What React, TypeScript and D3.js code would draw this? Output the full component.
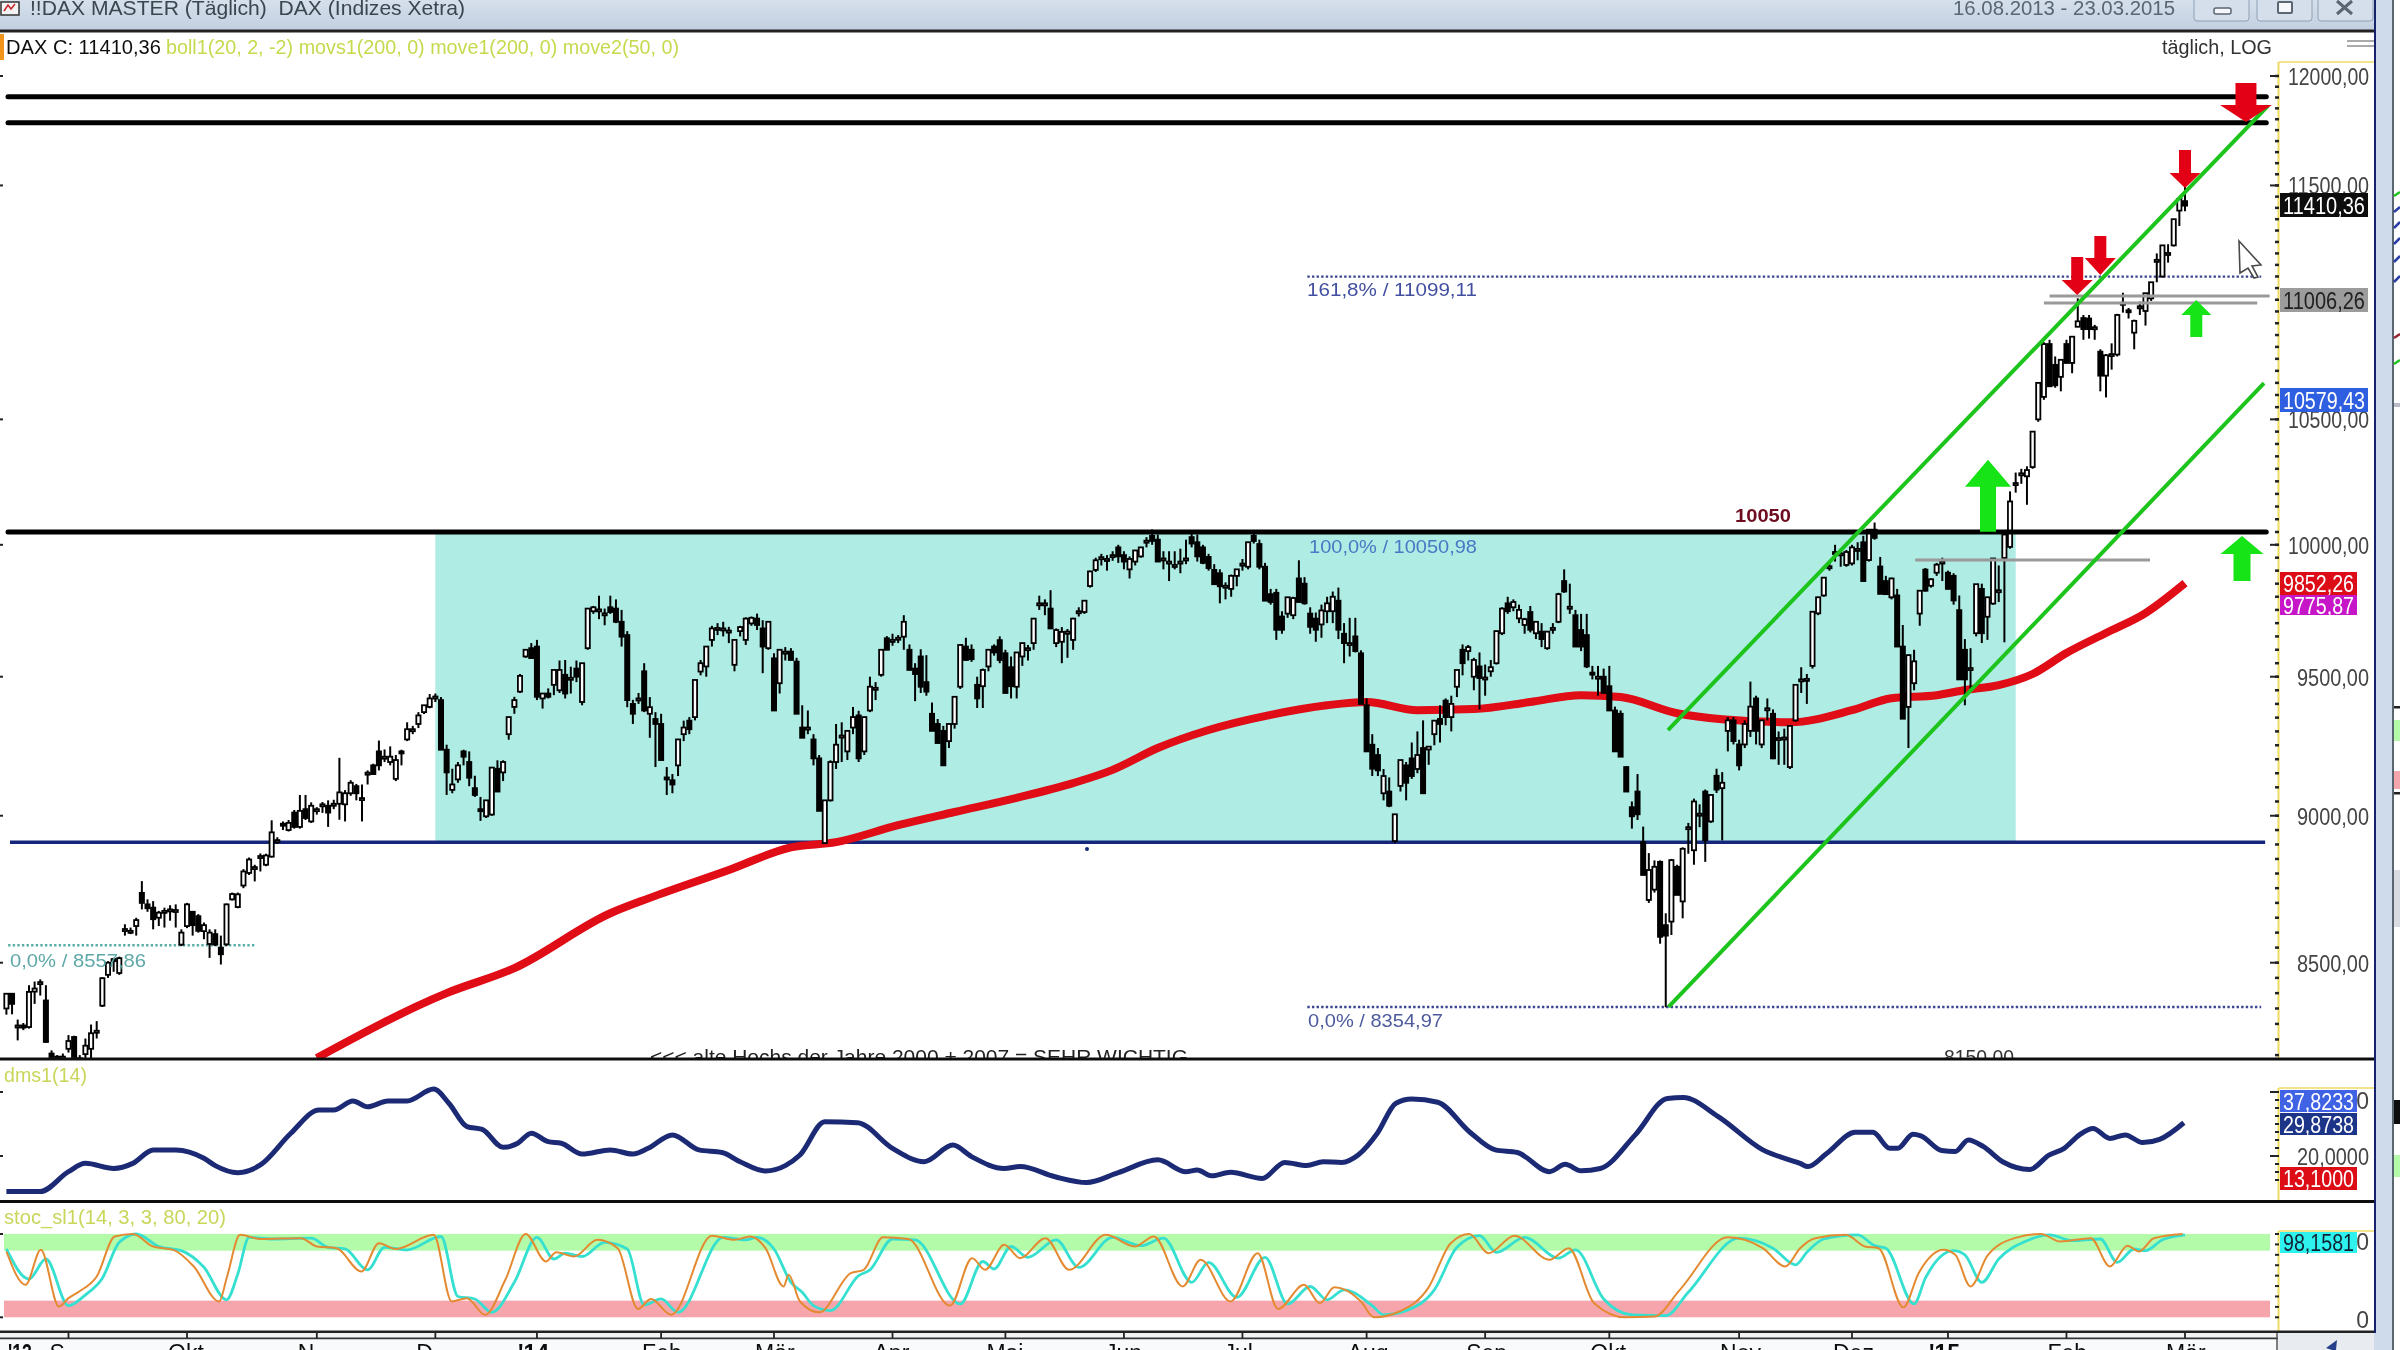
import React from "react";
import * as d3 from "d3";

// candles per month: [open, high, low, close]
type Candle = number[];
const aug13: Candle[] = [[8350,8400,8330,8398],[8398,8400,8331,8365],[8290,8314,8247,8295],[8295,8303,8280,8288],[8290,8426,8285,8404],[8405,8438,8365,8415],[8430,8445,8392,8436],[8376,8426,8240,8242],[8205,8215,8170,8190],[8195,8200,8170,8188],[8190,8205,8170,8195]];
const sep13: Candle[] = [[8220,8264,8208,8245],[8258,8262,8170,8180],[8190,8200,8165,8182],[8203,8253,8180,8230],[8220,8298,8180,8270],[8278,8309,8253,8278],[8359,8452,8355,8449],[8460,8505,8450,8500],[8512,8516,8470,8505],[8466,8520,8460,8515],[8610,8628,8590,8612],[8605,8617,8595,8606],[8622,8650,8590,8642],[8734,8774,8678,8700],[8695,8712,8670,8682],[8684,8706,8611,8645],[8650,8673,8622,8667],[8672,8684,8617,8673],[8678,8692,8640,8678],[8675,8695,8617,8676],[8560,8611,8555,8600]];
const oct13: Candle[] = [[8622,8700,8615,8695],[8670,8672,8590,8625],[8655,8662,8600,8606],[8605,8634,8578,8625],[8562,8611,8516,8600],[8595,8611,8555,8560],[8550,8590,8494,8528],[8561,8698,8555,8695],[8712,8735,8708,8730],[8686,8735,8682,8729],[8759,8815,8750,8807],[8802,8855,8795,8848],[8822,8830,8773,8822],[8858,8869,8807,8860],[8830,8868,8825,8862],[8858,8984,8855,8942],[8915,8925,8902,8915],[8972,8980,8950,8970],[8950,8985,8945,8975],[9011,9020,8955,8961],[8961,9073,8955,9017],[9023,9073,8985,8992],[8980,9047,8975,9035]];
const nov13: Candle[] = [[9020,9030,9004,9023],[9038,9048,9010,9040],[9035,9054,8961,9011],[9040,9056,9023,9042],[9042,9205,8986,9082],[9040,9090,8980,9079],[9079,9125,9070,9116],[9104,9112,9054,9079],[9060,9110,8980,9062],[9150,9160,9110,9152],[9178,9184,9145,9147],[9228,9267,9160,9178],[9207,9235,9190,9209],[9190,9246,9178,9209],[9130,9215,9122,9197],[9228,9234,9178,9222],[9271,9333,9265,9308],[9305,9320,9290,9308],[9327,9370,9312,9358],[9370,9395,9363,9395],[9389,9436,9384,9420]];
const dec13: Candle[] = [[9425,9438,9407,9427],[9414,9425,9234,9234],[9234,9252,9073,9153],[9091,9166,9079,9110],[9128,9190,9116,9178],[9228,9234,9178,9209],[9190,9228,9104,9134],[9097,9141,9066,9073],[9023,9066,8982,9020],[8998,9054,8992,9054],[9004,9172,9000,9170],[9166,9196,9085,9085],[9153,9196,9122,9190],[9290,9352,9270,9352],[9389,9426,9364,9414],[9445,9510,9440,9503],[9575,9600,9570,9600],[9606,9625,9566,9569]];
const jan14: Candle[] = [[9612,9637,9414,9426],[9420,9440,9383,9438],[9438,9457,9420,9426],[9470,9525,9432,9525],[9450,9560,9440,9525],[9507,9562,9420,9438],[9494,9537,9438,9496],[9530,9560,9480,9500],[9407,9550,9395,9550],[9606,9755,9600,9755],[9745,9765,9735,9760],[9750,9804,9715,9752],[9735,9755,9692,9737],[9760,9804,9735,9742],[9755,9790,9700,9705],[9705,9750,9612,9649],[9655,9670,9388,9414],[9400,9415,9327,9364],[9418,9440,9400,9420],[9520,9550,9370,9376],[9364,9425,9277,9388],[9345,9370,9172,9327]];
const feb14: Candle[] = [[9327,9364,9197,9197],[9135,9172,9073,9134],[9125,9147,9079,9110],[9178,9271,9140,9271],[9290,9339,9265,9314],[9339,9352,9290,9308],[9352,9488,9340,9488],[9519,9562,9505,9550],[9538,9612,9500,9612],[9637,9690,9612,9680],[9680,9700,9655,9682],[9678,9705,9650,9680],[9670,9686,9625,9672],[9544,9637,9520,9637],[9670,9690,9650,9685],[9637,9722,9618,9717],[9699,9725,9690,9720],[9717,9736,9674,9693],[9680,9711,9513,9612],[9606,9705,9600,9705]];
const mar14: Candle[] = [[9568,9587,9376,9376],[9476,9600,9438,9600],[9590,9610,9560,9593],[9593,9606,9562,9562],[9556,9570,9364,9364],[9314,9395,9277,9277],[9312,9376,9290,9314],[9271,9290,9178,9203],[9203,9215,9017,9017],[8905,9054,8903,9054],[9054,9196,9050,9190],[9190,9327,9165,9252],[9283,9333,9190,9285],[9228,9302,9197,9302],[9314,9389,9290,9352],[9358,9375,9190,9203],[9228,9352,9215,9352],[9376,9500,9370,9463],[9457,9480,9414,9459],[9507,9600,9500,9600],[9643,9651,9600,9600]];
const apr14: Candle[] = [[9635,9660,9615,9637],[9642,9655,9625,9645],[9649,9730,9600,9705],[9600,9620,9525,9525],[9530,9550,9410,9510],[9575,9602,9440,9463],[9480,9580,9430,9445],[9364,9405,9302,9302],[9327,9345,9258,9258],[9302,9320,9178,9178],[9265,9327,9240,9327],[9327,9426,9310,9426],[9463,9618,9455,9618],[9612,9645,9560,9562],[9600,9620,9555,9565],[9470,9500,9385,9420],[9465,9530,9385,9525],[9538,9600,9520,9600],[9612,9620,9578,9590],[9636,9650,9550,9562]];
const may14: Candle[] = [[9587,9600,9440,9440],[9535,9575,9420,9465],[9463,9590,9420,9590],[9575,9625,9540,9625],[9604,9618,9560,9606],[9625,9717,9600,9717],[9773,9804,9750,9775],[9773,9790,9730,9775],[9755,9825,9680,9680],[9625,9680,9610,9674],[9630,9685,9550,9667],[9660,9678,9570,9668],[9637,9720,9600,9717],[9742,9760,9725,9745],[9742,9785,9735,9785],[9841,9900,9835,9897],[9903,9950,9895,9940],[9950,9965,9920,9952],[9943,9960,9900,9945],[9958,9975,9938,9960],[9990,10000,9930,9955]];
const jun14: Candle[] = [[9960,9975,9905,9935],[9905,9955,9870,9945],[9935,9980,9920,9978],[9955,9990,9950,9990],[10015,10030,9990,10016],[10035,10060,10000,10015],[10020,10040,9935,9935],[9945,9975,9905,9947],[9932,9975,9860,9935],[9920,9975,9905,9922],[9932,9985,9890,9935],[9945,10020,9925,9947],[10030,10050,9990,10005],[10010,10040,9935,9955],[9990,10000,9925,9930],[9953,9965,9900,9910],[9903,9925,9845,9848],[9890,9905,9775,9840],[9840,9855,9790,9842],[9830,9885,9800,9880],[9880,9905,9840,9905]];
const jul14: Candle[] = [[9925,9945,9900,9927],[9915,10010,9905,10010],[10035,10056,10005,10015],[10003,10020,9905,9915],[9915,9930,9785,9785],[9810,9830,9770,9780],[9815,9830,9637,9675],[9725,9745,9660,9675],[9736,9798,9720,9798],[9730,9800,9715,9795],[9870,9940,9780,9780],[9850,9875,9770,9775],[9736,9760,9660,9686],[9717,9740,9630,9675],[9695,9770,9645,9748],[9745,9800,9700,9775],[9745,9820,9700,9800],[9785,9835,9640,9675],[9660,9700,9550,9625],[9620,9720,9575,9625],[9650,9720,9590,9595],[9587,9598,9400,9400]];
const aug14: Candle[] = [[9395,9420,9228,9228],[9252,9290,9140,9166],[9215,9240,9140,9160],[9079,9165,9054,9140],[9085,9135,9030,9035],[8912,9005,8905,9005],[9105,9197,9085,9197],[9178,9190,9054,9116],[9203,9260,9130,9140],[9165,9300,9150,9215],[9240,9340,9079,9079],[9235,9245,9180,9245],[9290,9340,9250,9339],[9345,9395,9260,9327],[9412,9420,9322,9352],[9352,9430,9300,9400],[9463,9525,9425,9525],[9600,9620,9505,9550],[9595,9618,9560,9610],[9500,9570,9450,9562],[9538,9590,9380,9495]];
const sep14: Candle[] = [[9490,9545,9430,9497],[9520,9562,9500,9535],[9550,9670,9545,9670],[9662,9760,9655,9755],[9775,9800,9735,9745],[9760,9790,9745,9780],[9718,9770,9700,9750],[9693,9720,9660,9715],[9742,9765,9665,9675],[9662,9705,9640,9705],[9668,9700,9610,9640],[9606,9670,9600,9668],[9680,9700,9660,9682],[9705,9815,9700,9810],[9860,9905,9815,9820],[9760,9850,9735,9762],[9730,9750,9612,9612],[9674,9735,9595,9612],[9655,9735,9532,9538],[9515,9540,9490,9512],[9495,9540,9430,9500],[9500,9530,9440,9440]];
const oct14: Candle[] = [[9465,9540,9375,9376],[9376,9390,9228,9228],[9364,9376,9209,9209],[9172,9175,9085,9085],[9030,9050,8955,8998],[9085,9147,8985,9005],[8908,8962,8795,8795],[8710,8870,8700,8812],[8745,8845,8735,8823],[8840,8845,8563,8586],[8625,8665,8354,8590],[8637,8850,8592,8846],[8823,8830,8727,8727],[8705,8890,8648,8885],[8955,8975,8868,8960],[8880,9060,8830,9050],[9005,9040,8960,9007],[9085,9092,8840,8915],[8980,9075,8975,9073],[9141,9166,9080,9092],[9097,9154,8914,9116],[9302,9352,9228,9340],[9340,9352,9253,9265]];
const nov14: Candle[] = [[9253,9270,9160,9178],[9253,9340,9240,9327],[9302,9482,9280,9390],[9420,9430,9253,9302],[9253,9340,9240,9340],[9380,9420,9340,9384],[9364,9380,9200,9203],[9272,9300,9180,9276],[9275,9310,9180,9278],[9172,9320,9165,9320],[9340,9470,9335,9470],[9488,9535,9440,9490],[9490,9510,9400,9492],[9540,9743,9530,9743],[9737,9800,9730,9798],[9805,9875,9800,9873],[9915,9930,9900,9917],[9970,10000,9935,9972],[9965,9985,9915,9967],[9922,9980,9915,9972]];
const dec14: Candle[] = [[9928,10000,9920,9990],[9982,10010,9940,9984],[10010,10035,9860,9860],[9941,10060,9935,10059],[10059,10087,10020,10027],[9916,9953,9810,9811],[9860,9880,9810,9810],[9798,9873,9790,9870],[9805,9830,9612,9612],[9612,9693,9346,9346],[9389,9582,9240,9580],[9476,9600,9450,9557],[9736,9823,9690,9823],[9904,9910,9820,9823],[9842,9870,9835,9867],[9892,9930,9880,9923],[9934,9950,9860,9935]];
const jan15: Candle[] = [[9892,9900,9828,9830],[9880,9890,9770,9786],[9749,9805,9490,9490],[9600,9640,9395,9490],[9530,9606,9450,9532],[9662,9848,9650,9848],[9830,9850,9625,9662],[9724,9800,9637,9798],[9774,9947,9770,9947],[9823,9920,9780,9825],[9949,10040,9628,10040],[9992,10210,9985,10170],[10240,10285,10205,10243],[10280,10300,10240,10282],[10270,10310,10157,10295],[10307,10450,10300,10450],[10500,10650,10490,10650],[10592,10820,10580,10812],[10812,10830,10635,10636],[10725,10760,10630,10640],[10675,10746,10615,10746]];
const feb15: Candle[] = [[10812,10830,10730,10733],[10733,10845,10690,10843],[10885,11006,10885,10908],[10922,10935,10830,10875],[10920,10935,10835,10875],[10880,10893,10830,10883],[10780,10790,10615,10680],[10680,10770,10590,10765],[10768,10815,10705,10770],[10768,10940,10760,10935],[10985,11030,10945,10987],[10955,10965,10920,10950],[10860,10915,10790,10910],[10970,10992,10935,10972],[10952,11028,10890,11028],[11006,11075,10995,11075],[11170,11200,11075,11172],[11100,11235,11095,11235],[11200,11240,11160,11202],[11235,11350,11230,11350],[11388,11445,11320,11440]];
const mar15: Candle[] = [[11430,11500,11385,11410]];
const candles = [...aug13, ...sep13, ...oct13, ...nov13, ...dec13, ...jan14, ...feb14, ...mar14, ...apr14, ...may14, ...jun14, ...jul14, ...aug14, ...sep14, ...oct14, ...nov14, ...dec14, ...jan15, ...feb15, ...mar15];

// SMA 200: [bar, price]
const sma200 = [[55,8191],[78,8400],[90,8482],[107,8665],[114,8717],[128,8812],[139,8890],[147,8908],[158,8967],[168,9013],[179,9063],[189,9115],[196,9162],[204,9240],[213,9305],[224,9360],[234,9395],[241,9407],[250,9377],[260,9381],[270,9407],[279,9432],[286,9425],[296,9366],[304,9344],[316,9333],[327,9377],[334,9421],[342,9432],[347,9451],[353,9469],[359,9510],[365,9588],[372,9663],[379,9738],[386,9852]];

// DMS(14): [bar, value]
const dms = [[0,8.9],[6,8.9],[11,15.1],[14,17.7],[19,16.1],[22.4,17.7],[26,21.9],[30,21.9],[35,19.3],[37,17],[41,14.8],[45,17.2],[50.4,27.1],[55.4,34.4],[58,34.4],[61.4,37.2],[64,35.4],[67.6,37.2],[71,37.2],[75.7,40.9],[78.4,36.5],[81.6,29.2],[84.3,28.3],[88,22.7],[90.6,24],[93,27.1],[96,24.5],[98.3,24],[102,20.6],[107,21.9],[111,20.6],[113.7,22.4],[118,26.6],[122.7,21.9],[126.8,21.1],[130,18.2],[134.5,15.3],[138,17],[140.6,20.3],[145,30.7],[150.8,30.4],[157,22.4],[162.6,18.2],[167.7,23.4],[171,19.8],[176.8,16.1],[179.6,16.7],[185.8,13.5],[191.4,11.7],[197,14.8],[204,18.8],[209,15.1],[211,15.6],[213.5,13.8],[216.9,14.9],[222.5,13],[226.5,18],[230.4,17],[233.3,18.2],[236.6,18],[239.5,20.3],[242.9,27.1],[246.2,36.5],[249,37.8],[253.6,36.8],[259.2,27.6],[263.8,21.9],[267.7,21.1],[273.4,15.1],[276.2,17.4],[279,15.4],[282.4,16.1],[288.6,26.6],[294.3,38],[297.1,38.3],[303.3,32.3],[311.2,21.9],[317.8,17.7],[319.2,16.7],[322.5,20.8],[327.6,27.4],[330.7,27.4],[333.7,22.4],[335.1,22.4],[337.8,26.8],[339.2,26.3],[342.9,21.7],[345.3,21.4],[347.6,25],[350.3,22.9],[353.7,18.2],[358.5,15.8],[361.9,20.3],[364.6,22.4],[367.3,26.6],[369.7,28.6],[372.7,25.5],[375.4,26.6],[378.5,24.2],[381.5,25.2],[385.8,30.4]];

// Stochastic: [bar, value]
const stochFast = [[0,79],[3.4,39],[6.1,81],[9.3,13],[11,23],[12.9,31],[16,49],[19.2,97],[22.4,100],[26,85],[29.6,81],[33.2,61],[37.7,19],[39.1,49],[41.4,99],[45,94],[52.2,95],[55,85],[58.5,83],[62.9,55],[66,89],[69,82],[75.7,99],[78.9,19],[81.6,23],[84.8,3],[88.4,45],[92,100],[95.6,67],[97.4,78],[100.6,73],[104.7,93],[108.3,83],[111.9,10],[114.2,22],[117.8,3],[125,98],[129,93],[131.8,97],[134.5,83],[137.7,37],[138.6,51],[140.6,19],[144,6],[149.6,53],[151.9,57],[155.3,96],[159.8,94],[167.2,14],[171.1,71],[173.4,57],[176.8,87],[179.6,71],[184.1,95],[188.3,57],[194.8,99],[199.9,85],[203.3,97],[208.4,37],[211.6,69],[216.9,19],[221.7,77],[225.3,10],[229.9,39],[232.7,17],[235.3,36],[240,19],[242.3,0],[246.8,7],[251.9,35],[255.9,89],[259.2,100],[262.6,77],[267.2,98],[273.4,69],[276.8,83],[281.3,17],[286.9,0],[292,1],[296.5,33],[305,96],[311.2,83],[315.2,61],[317.8,83],[320.5,95],[325.9,99],[329.3,85],[331.7,83],[336.1,12],[338.8,53],[343.2,81],[345.3,75],[348,37],[351,74],[355.8,95],[360.5,100],[363.9,91],[369.3,95],[372.7,61],[375.8,86],[377.8,79],[380.5,95],[385.6,100]];
const stochSlow = [[0,82],[4,46],[7,70],[11,14],[14,27],[17,47],[20,90],[23,100],[27,85],[31,80],[35,60],[39,21],[41,52],[43,96],[47,94],[54,95],[57,84],[60,82],[64,57],[67,84],[71,81],[77,97],[80,25],[83,22],[86,6],[90,42],[94,96],[97,70],[99,77],[102,73],[106,90],[110,82],[113,15],[116,22],[119,6],[127,96],[131,93],[133,96],[136,82],[139,42],[141,30],[143,14],[146,8],[151,50],[153,57],[157,94],[161,93],[169,16],[173,67],[175,58],[178,85],[181,72],[186,93],[190,60],[196,96],[201,86],[205,95],[210,42],[213,66],[218,24],[223,72],[227,16],[231,37],[234,21],[237,33],[242,14],[244,3],[248,8],[253,33],[257,84],[261,98],[264,78],[269,96],[275,71],[278,81],[283,22],[288,3],[294,2],[298,30],[307,95],[313,83],[317,63],[319,78],[322,94],[328,99],[331,86],[333,83],[338,16],[340,47],[345,80],[347,75],[350,42],[353,70],[358,92],[362,99],[366,92],[371,94],[374,66],[377,82],[379,80],[382,93],[386,99]];

// annotations in bar / price terms
const blackLevels = [11904, 11784, 10050];
const blueLevel = 8908;
const channelUpper = [[294.4, 9305], [400.7, 11861]];
const channelLower = [[294.5, 8355], [400, 10649]];
const grayLevels = [[362, 401, 11016], [361, 398.8, 10986], [338.2, 379.8, 9941]];
const fibLevels = [[230.5, 399.5, 11099.11], [230.5, 399.5, 8354.97], [0.3, 44, 8557.86]];
const rangeBox = { startBar: 76, endBar: 356, top: 10050, bottom: 8908 };
const redArrows = [[396.8, 11787, 39, 52, 17, 21], [386, 11489, 38, 31, 15, 12], [371, 11106, 39, 31, 17, 12], [366.9, 11020, 38, 31, 15, 12]];
const greenArrows = [[388, 10999, 37, 30, 15, 12], [351.1, 10336, 72, 46, 27, 16], [396.1, 10034, 45, 43, 18, 17]];

const priceTicks = [12000, 11500, 10500, 10000, 9500, 9000, 8500];
const monthBars = [11, 32, 55, 76, 94, 116, 136, 157, 177, 198, 219, 241, 262, 284, 307, 327, 344, 365, 386];
const monthLabels = ["S", "Okt", "N", "D", "'14", "Feb", "Mär", "Apr", "Mai", "Jun", "Jul", "Aug", "Sep", "Okt", "Nov", "Dez", "'15", "Feb", "Mär"];

const FONT = '"Liberation Sans", Arial, sans-serif';
const W = 2400;
const H = 1350;
const priceTop = 32;
const priceBottom = 1058;
const plotRight = 2277;

const x = d3.scaleLinear().domain([0, 386]).range([6.4, 2185]);
const y = d3.scaleLog().domain([8500, 12000]).range([962.7, 76]);
const yDms = d3.scaleLinear().domain([0, 40]).range([1220, 1092]);
const yStoch = d3.scaleLinear().domain([0, 100]).range([1317.3, 1234]);

const priceLine = d3.line<number[]>().x((d) => x(d[0])).y((d) => y(d[1]));
const smaLine = d3.line<number[]>().x((d) => x(d[0])).y((d) => y(d[1])).curve(d3.curveMonotoneX);
const dmsLine = d3.line<number[]>().x((d) => x(d[0])).y((d) => yDms(d[1])).curve(d3.curveMonotoneX);
const stochLine = d3.line<number[]>().x((d) => x(d[0])).y((d) => yStoch(d[1])).curve(d3.curveMonotoneX);

const Txt = ({ x: tx, y: ty, w, size = 21, fill = "#333", anchor = "start", bold = false, children }: any) => (
    <text
        x={tx}
        y={ty}
        fontSize={size}
        fill={fill}
        textAnchor={anchor}
        fontWeight={bold ? "bold" : "normal"}
        textLength={w}
        lengthAdjust={w ? "spacingAndGlyphs" : undefined}
    >
        {children}
    </text>
);

// value chip on the right scale
const Chip = ({ top, h, w = 88, bg, fill = "#fff", children }: any) => (
    <g>
        <rect x={2280} y={top} width={w} height={h} fill={bg} />
        <Txt x={2283} y={top + h / 2 + 8.5} w={w - 6} fill={fill} size={24}>
            {children}
        </Txt>
    </g>
);

const arrowPath = (a: number[], dir: number) => {
    const [bar, price, len, headW, headH, stemW] = a;
    const cx = x(bar);
    const tip = y(price);
    return d3.line()([
        [cx, tip],
        [cx + headW / 2, tip + dir * headH],
        [cx + stemW / 2, tip + dir * headH],
        [cx + stemW / 2, tip + dir * len],
        [cx - stemW / 2, tip + dir * len],
        [cx - stemW / 2, tip + dir * headH],
        [cx - headW / 2, tip + dir * headH],
    ] as [number, number][]) + "Z";
};

export default function App() {
    return (
        <svg
            width={W}
            height={H}
            viewBox={`0 0 ${W} ${H}`}
            style={{ position: "absolute", left: 0, top: 0, fontFamily: FONT }}
        >
            <defs>
                <linearGradient id="titleBar" x1="0" x2="0" y1="0" y2="1">
                    <stop offset="0" stopColor="#d6e0ec" />
                    <stop offset="1" stopColor="#c2cfe0" />
                </linearGradient>
                <clipPath id="pricePane">
                    <rect x={0} y={priceTop} width={plotRight} height={priceBottom - priceTop} />
                </clipPath>
                <clipPath id="axisRow">
                    <rect x={0} y={1339} width={plotRight} height={11} />
                </clipPath>
                <filter id="soft" x="0" y="0" width="100%" height="100%">
                    <feGaussianBlur stdDeviation="0.7" />
                </filter>
            </defs>

            <g filter="url(#soft)">
                <rect width={W} height={H} fill="#fff" />

                {/* window chrome */}
                <rect width={2393} height={30} fill="url(#titleBar)" />
                <rect x={2374} y={0} width={18} height={H} fill="#cfdbea" />
                <rect x={2392} y={0} width={2} height={H} fill="#5a6672" />
                <rect x={1} y={2} width={18} height={13} fill="#f3f3f3" stroke="#333" strokeWidth={1.5} />
                <path d="M4 11 L8 5 L11 9 L15 4" fill="none" stroke="#c8202a" strokeWidth={1.5} />
                <Txt x={30} y={15} w={435} size={21} fill="#3a4650">
                    {"!!DAX MASTER (Täglich)\u00a0\u00a0DAX (Indizes Xetra)"}
                </Txt>
                <Txt x={1953} y={15} w={222} size={20} fill="#5a6672">
                    16.08.2013 - 23.03.2015
                </Txt>
                {[2194, 2257, 2318].map((bx) => (
                    <rect key={bx} x={bx} y={-6} width={55} height={27} rx={3} fill="#d5dfeb" stroke="#8ea0b4" />
                ))}
                <rect x={2214} y={8} width={17} height={6} rx={2} fill="#f5f7fa" stroke="#5a6672" strokeWidth={1.5} />
                <rect x={2278} y={2} width={14} height={11} rx={1} fill="#f5f7fa" stroke="#5a6672" strokeWidth={2} />
                <path d="M2337 1 L2352 14 M2352 1 L2337 14" stroke="#5a6672" strokeWidth={3} />
                <rect x={0} y={29.5} width={2374} height={3} fill="#222" />

                {/* next window peeking in on the right */}
                <path d="M2394 196 L2400 192" stroke="#1dc41d" strokeWidth={2.5} />
                <path d="M2394 212 L2400 207 M2394 228 L2400 222 M2394 244 L2400 238 M2394 262 L2400 256 M2394 282 L2400 276" stroke="#2a40a8" strokeWidth={2.5} />
                <path d="M2394 338 L2400 334" stroke="#9b2030" strokeWidth={2.5} />
                <path d="M2394 364 L2400 360" stroke="#1dc41d" strokeWidth={2.5} />
                <rect x={2394} y={403} width={6} height={4} fill="#b8bcc8" />
                <rect x={2394} y={706} width={6} height={2.5} fill="#222" />
                <rect x={2394} y={720} width={6} height={21} fill="#b3fba9" />
                <rect x={2394} y={771} width={6} height={18} fill="#f7a5ad" />
                <rect x={2394} y={792} width={6} height={2.5} fill="#222" />
                <rect x={2394} y={870} width={6} height={57} fill="#d8dce2" />
                <rect x={2394} y={1100} width={6} height={24} fill="#111" />
                <rect x={2394} y={1155} width={6} height={22} fill="#b3fba9" />

                {/* price pane */}
                <rect x={0} y={34} width={4} height={26} fill="#f2941c" />
                <Txt x={6} y={54} w={155} size={21} fill="#111">DAX C: 11410,36</Txt>
                <Txt x={166} y={54} w={513} size={21} fill="#c7d94e">
                    boll1(20, 2, -2) movs1(200, 0) move1(200, 0) move2(50, 0)
                </Txt>
                <Txt x={2162} y={54} w={110} size={20} fill="#333">täglich, LOG</Txt>
                <rect x={2347} y={40} width={27} height={2} fill="#aaa" />
                <rect x={2347} y={45} width={27} height={2} fill="#aaa" />

                <g clipPath="url(#pricePane)">
                    <rect
                        x={x(rangeBox.startBar)}
                        y={y(rangeBox.top)}
                        width={x(rangeBox.endBar) - x(rangeBox.startBar)}
                        height={y(rangeBox.bottom) - y(rangeBox.top)}
                        fill="#aeece4"
                    />
                    {fibLevels.map((f, k) => (
                        <line
                            key={k}
                            x1={x(f[0])}
                            x2={x(f[1])}
                            y1={y(f[2])}
                            y2={y(f[2])}
                            stroke={k === 2 ? "#5aaeaa" : "#3a4690"}
                            strokeWidth={2.4}
                            strokeDasharray="2.4 2.2"
                        />
                    ))}
                    <line x1={10} x2={x(400.2)} y1={y(blueLevel)} y2={y(blueLevel)} stroke="#16277a" strokeWidth={3.5} />
                    <path d={smaLine(sma200) ?? ""} fill="none" stroke="#e00814" strokeWidth={8} strokeLinejoin="round" />

                    {candles.map((c, i) => {
                        const [o, h, l, cl] = c;
                        const up = cl >= o;
                        const top = y(Math.max(o, cl));
                        const bot = y(Math.min(o, cl));
                        return (
                            <g key={i}>
                                <line x1={x(i)} x2={x(i)} y1={y(h)} y2={y(l)} stroke="#000" strokeWidth={2} />
                                <rect
                                    x={x(i) - 2.1}
                                    y={top}
                                    width={4.2}
                                    height={Math.max(bot - top, 2)}
                                    fill={up ? "#fff" : "#000"}
                                    stroke="#000"
                                    strokeWidth={1.8}
                                />
                            </g>
                        );
                    })}

                    {blackLevels.map((v) => (
                        <line key={v} x1={8} x2={x(400.4)} y1={y(v)} y2={y(v)} stroke="#000" strokeWidth={5} strokeLinecap="round" />
                    ))}
                    {grayLevels.map((g, k) => (
                        <line key={k} x1={x(g[0])} x2={x(g[1])} y1={y(g[2])} y2={y(g[2])} stroke="#9a9a9a" strokeWidth={3} />
                    ))}
                    <path d={priceLine(channelUpper) ?? ""} stroke="#1dc41d" strokeWidth={4} fill="none" />
                    <path d={priceLine(channelLower) ?? ""} stroke="#1dc41d" strokeWidth={4} fill="none" />
                    {greenArrows.map((a, k) => (
                        <path key={k} d={arrowPath(a, 1)} fill="#12e412" />
                    ))}
                    {redArrows.map((a, k) => (
                        <path key={k} d={arrowPath(a, -1)} fill="#e30613" />
                    ))}
                    <circle cx={1087} cy={849} r={2} fill="#16277a" />

                    <Txt x={1307} y={296} w={170} size={19} fill="#4350a0">161,8% / 11099,11</Txt>
                    <Txt x={1309} y={553} w={168} size={19} fill="#4a78c4">100,0% / 10050,98</Txt>
                    <Txt x={1308} y={1027} w={135} size={19} fill="#4d5a9c">0,0% / 8354,97</Txt>
                    <Txt x={10} y={967} w={136} size={19} fill="#5fa8a8">0,0% / 8557,86</Txt>
                    <Txt x={1735} y={522} w={56} size={18} bold fill="#6e1020">10050</Txt>
                    <Txt x={650} y={1064} w={538} size={21} fill="#222">{"<<< alte Hochs der Jahre 2000 + 2007 = SEHR WICHTIG"}</Txt>
                    <Txt x={1944} y={1064} w={70} size={21} fill="#333">8150,00</Txt>
                </g>

                {/* mouse cursor */}
                <path
                    d="M2239 241 L2261 265 L2252 266 L2258 277 L2254 278 L2248 268 L2240 273 Z"
                    fill="#fff"
                    stroke="#4a4a4a"
                    strokeWidth={1.6}
                />

                {/* price scale */}
                <line x1={2279} x2={2374} y1={62} y2={62} stroke="#f3e48c" strokeWidth={2} />
                <line x1={2278.5} x2={2278.5} y1={62} y2={1058} stroke="#f0da5e" strokeWidth={2} />
                {d3.range(8200, 12050, 50).map((v) => (
                    <line key={v} x1={2275} x2={2279} y1={y(v)} y2={y(v)} stroke="#222" strokeWidth={2.5} />
                ))}
                {priceTicks.map((v) => (
                    <g key={v}>
                        <line x1={2270} x2={2279} y1={y(v)} y2={y(v)} stroke="#222" strokeWidth={2} />
                        <line x1={0} x2={3} y1={y(v)} y2={y(v)} stroke="#222" strokeWidth={2} />
                        <Txt x={2369} y={y(v) + 9} size={24} w={v >= 10000 ? 81 : 72} anchor="end" fill="#444">
                            {d3.format("d")(v) + ",00"}
                        </Txt>
                    </g>
                ))}
                <Chip top={193} h={24} bg="#0a0a0a">11410,36</Chip>
                <Chip top={288} h={24} bg="#9c9c9c" fill="#222">11006,26</Chip>
                <Chip top={388} h={24} bg="#2f5fe0">10579,43</Chip>
                <Chip top={572} h={23} w={77} bg="#dc0d18">9852,26</Chip>
                <Chip top={595} h={20} w={77} bg="#c616c8">9775,87</Chip>

                <rect x={0} y={1057.5} width={2374} height={3} fill="#111" />

                {/* DMS pane */}
                <Txt x={4} y={1082} w={83} size={20} fill="#c9d65a">dms1(14)</Txt>
                <path d={dmsLine(dms) ?? ""} fill="none" stroke="#1b2c74" strokeWidth={5} />
                <line x1={2279} x2={2374} y1={1088} y2={1088} stroke="#f3e48c" strokeWidth={2} />
                <line x1={2278.5} x2={2278.5} y1={1088} y2={1200} stroke="#f0da5e" strokeWidth={2} />
                {d3.range(12.5, 41, 2.5).map((v) => (
                    <line key={v} x1={2275} x2={2279} y1={yDms(v)} y2={yDms(v)} stroke="#222" strokeWidth={2} />
                ))}
                {[20, 40].map((v) => (
                    <g key={v}>
                        <line x1={2270} x2={2279} y1={yDms(v)} y2={yDms(v)} stroke="#222" strokeWidth={2} />
                        <line x1={0} x2={3} y1={yDms(v)} y2={yDms(v)} stroke="#222" strokeWidth={2} />
                    </g>
                ))}
                <Txt x={2369} y={1109} size={23} anchor="end" fill="#444">0</Txt>
                <Txt x={2369} y={1165} w={72} size={23} anchor="end" fill="#444">20,0000</Txt>
                <Chip top={1090} h={22} w={77} bg="#3f63e6">37,8233</Chip>
                <Chip top={1113} h={22} w={77} bg="#1f3488">29,8738</Chip>
                <Chip top={1167} h={23} w={77} bg="#dd0d18">13,1000</Chip>

                <rect x={0} y={1200} width={2374} height={3} fill="#111" />

                {/* stochastic pane */}
                <Txt x={4} y={1224} w={222} size={20} fill="#c9d65a">stoc_sl1(14, 3, 3, 80, 20)</Txt>
                <rect x={4} y={yStoch(100)} width={2266} height={yStoch(80) - yStoch(100)} fill="#b3fba9" />
                <rect x={4} y={yStoch(20)} width={2266} height={yStoch(0) - yStoch(20)} fill="#f7a5ad" />
                <path d={stochLine(stochSlow) ?? ""} fill="none" stroke="#35e0d0" strokeWidth={2.8} />
                <path d={stochLine(stochFast) ?? ""} fill="none" stroke="#e48a30" strokeWidth={2} />
                <line x1={2279} x2={2374} y1={1231} y2={1231} stroke="#f3e48c" strokeWidth={2} />
                <line x1={2278.5} x2={2278.5} y1={1231} y2={1331} stroke="#f0da5e" strokeWidth={2} />
                {d3.range(0, 101, 12.5).map((v) => (
                    <line key={v} x1={2275} x2={2279} y1={yStoch(v)} y2={yStoch(v)} stroke="#222" strokeWidth={2} />
                ))}
                {[0, 100].map((v) => (
                    <line key={v} x1={0} x2={3} y1={yStoch(v)} y2={yStoch(v)} stroke="#222" strokeWidth={2} />
                ))}
                <Txt x={2369} y={1250} size={23} anchor="end" fill="#444">0</Txt>
                <Txt x={2369} y={1328} size={23} anchor="end" fill="#444">0</Txt>
                <Chip top={1232} h={21} w={77} bg="#2ff2ee" fill="#123">98,1581</Chip>

                {/* time axis */}
                <rect x={0} y={1330.5} width={2374} height={2.5} fill="#222" />
                <rect x={0} y={1333} width={2278} height={4.5} fill="#f2f2f2" />
                <rect x={0} y={1337.5} width={2278} height={2} fill="#333" />
                <rect x={0} y={1339.5} width={2278} height={10.5} fill="#f8fafb" />
                <rect x={2278} y={1333} width={96} height={17} fill="#e8ecf0" />
                <path d="M2332 1350 L2326 1348 L2337 1340 L2336 1350 Z" fill="#27408b" />
                <line x1={2277} x2={2277} y1={1333} y2={1350} stroke="#555" strokeWidth={1.5} />
                <rect x={2374} y={0} width={2} height={1333} fill="#14246c" />
                {monthBars.map((b) => (
                    <line key={b} x1={x(b)} x2={x(b)} y1={1333} y2={1338} stroke="#222" strokeWidth={1.8} />
                ))}
                <g clipPath="url(#axisRow)">
                    <Txt x={8} y={1361} w={24} size={23} bold fill="#111">'13</Txt>
                    {monthLabels.map((m, k) => (
                        <Txt key={k} x={x(monthBars[k]) - 19} y={1361} size={23} bold={m.startsWith("'")} fill="#111">
                            {m}
                        </Txt>
                    ))}
                </g>
            </g>
        </svg>
    );
}
